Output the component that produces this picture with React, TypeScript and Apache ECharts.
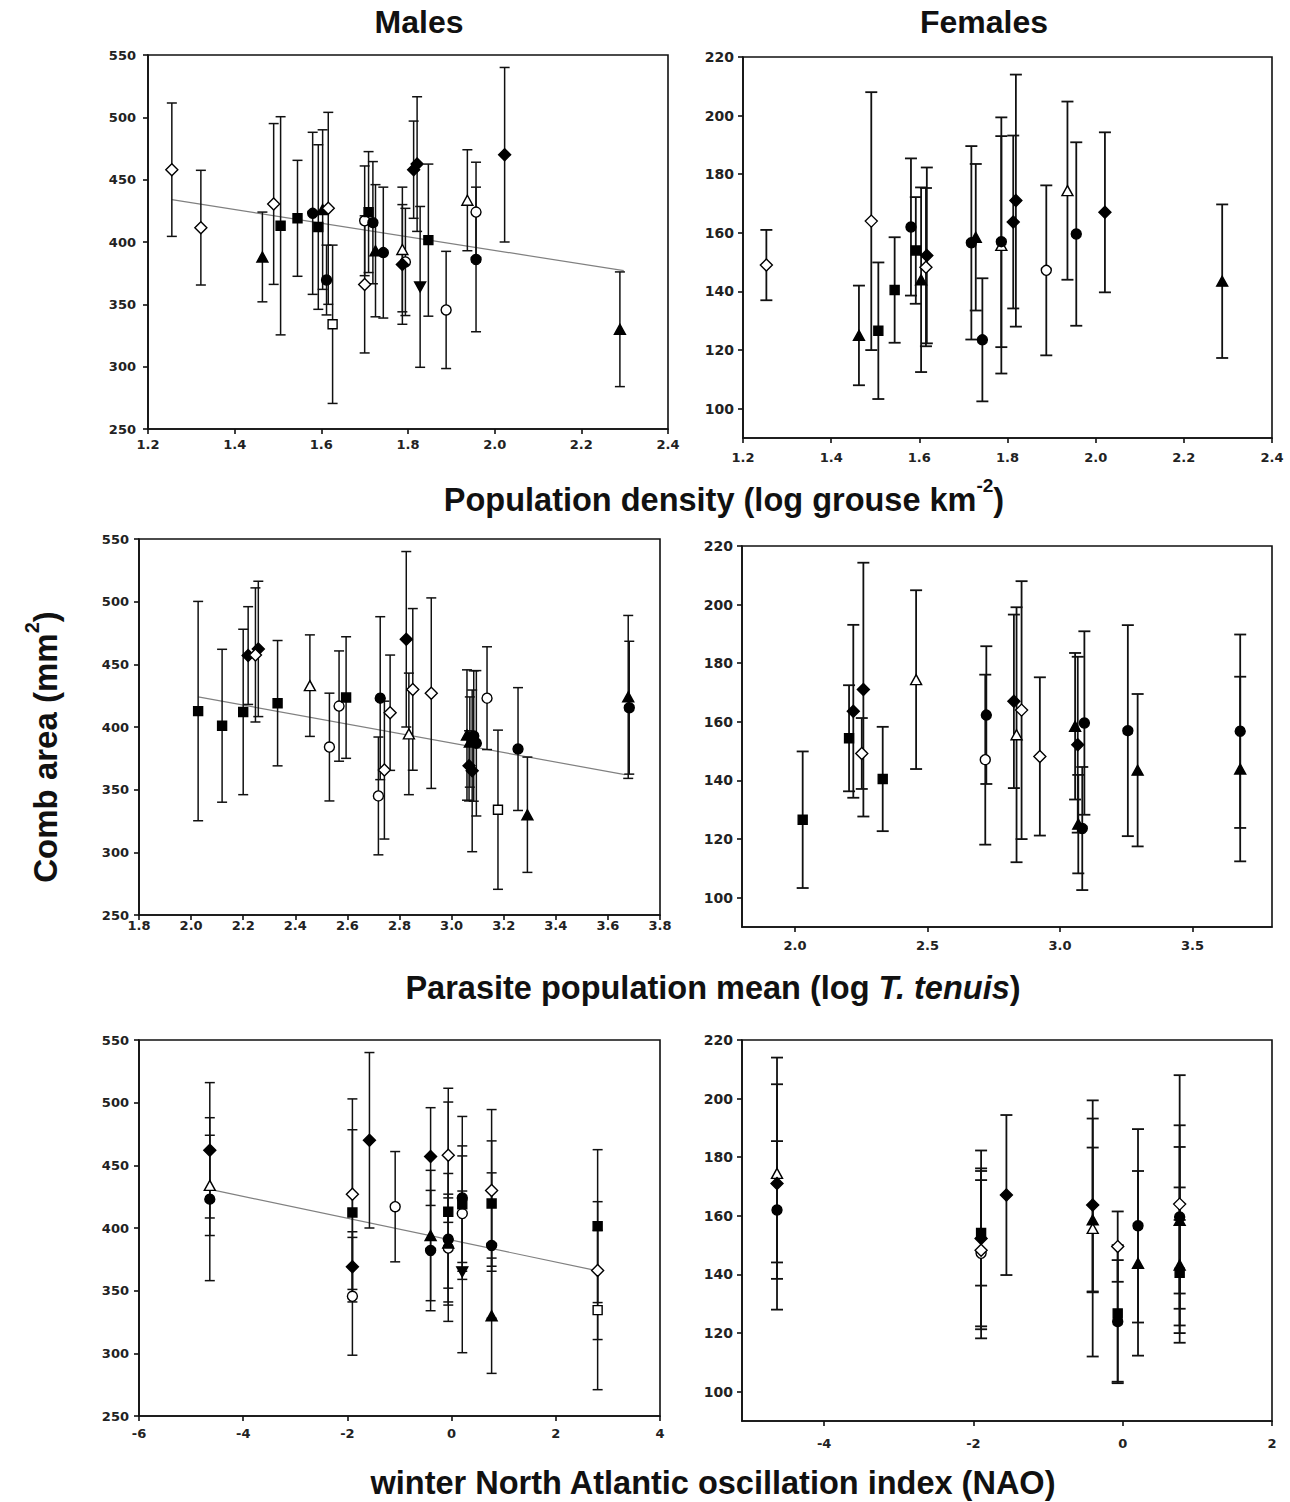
import React, { useEffect, useRef } from "react";
import * as echarts from "echarts";

// Each row: [x, mean comb area, error (half bar length), marker code]
type Row = [number, number, number, string];

// ---------- Males vs population density ----------
const densityMales: Row[] = [
  [1.255, 458, 53.5, "OD"],
  [1.322, 411.5, 46, "OD"],
  [1.464, 388, 36, "FT"],
  [1.49, 430.5, 64.5, "OD"],
  [1.506, 413, 87.5, "FS"],
  [1.545, 419, 46.5, "FS"],
  [1.58, 423, 65, "FC"],
  [1.593, 412, 66, "FS"],
  [1.603, 426, 64, "FT"],
  [1.616, 427, 77, "OD"],
  [1.612, 369.5, 28, "FC"],
  [1.626, 334, 63.5, "OS"],
  [1.7, 417, 44, "OC"],
  [1.7, 366, 55, "OD"],
  [1.709, 424, 48.5, "FS"],
  [1.719, 415.5, 49, "FC"],
  [1.725, 393, 53, "FT"],
  [1.743, 391.5, 52.5, "FC"],
  [1.787, 394, 50, "OT"],
  [1.787, 382, 48, "FD"],
  [1.794, 384, 43, "OC"],
  [1.813, 458, 39, "FD"],
  [1.821, 462.5, 54, "FD"],
  [1.828, 364, 64.5, "FTD"],
  [1.847, 401.5, 61, "FS"],
  [1.888, 345.5, 47, "OC"],
  [1.937, 433.5, 40.5, "OT"],
  [1.957, 424, 40, "OC"],
  [1.957, 386, 58, "FC"],
  [2.023, 470, 70, "FD"],
  [2.289, 330, 46, "FT"],
];
const densityMalesTrend = [
  [1.255, 434],
  [2.298, 377],
];

// ---------- Females vs population density ----------
const densityFemales: Row[] = [
  [1.253, 149, 12, "OD"],
  [1.463, 125, 17, "FT"],
  [1.491, 164, 44, "OD"],
  [1.507, 126.6, 23.3, "FS"],
  [1.544, 140.5, 18, "FS"],
  [1.581, 162, 23.4, "FC"],
  [1.592, 154, 18.2, "FS"],
  [1.604, 144, 31.5, "FT"],
  [1.617, 152.3, 30, "FD"],
  [1.615, 148.3, 27, "OD"],
  [1.718, 156.6, 33, "FC"],
  [1.728, 158.5, 25, "FT"],
  [1.743, 123.5, 21, "FC"],
  [1.786, 155.7, 43.7, "OT"],
  [1.786, 157, 36, "FC"],
  [1.813, 163.7, 29.5, "FD"],
  [1.819, 171, 43, "FD"],
  [1.888, 147.2, 29, "OC"],
  [1.936, 174.4, 30.4, "OT"],
  [1.956, 159.6, 31.3, "FC"],
  [2.021, 167, 27.3, "FD"],
  [2.287, 143.5, 26.2, "FT"],
];

// ---------- Males vs parasite mean ----------
const parasiteMales: Row[] = [
  [2.027, 412.7, 87.5, "FS"],
  [2.119, 401, 61, "FS"],
  [2.2, 412, 66, "FS"],
  [2.219, 457, 39, "FD"],
  [2.247, 457.5, 53.5, "OD"],
  [2.258, 462.3, 54, "FD"],
  [2.332, 419, 50, "FS"],
  [2.456, 433, 40.5, "OT"],
  [2.531, 384, 43, "OC"],
  [2.568, 416.7, 44, "OC"],
  [2.595, 423.5, 48.5, "FS"],
  [2.726, 423, 65, "FC"],
  [2.719, 345, 47, "OC"],
  [2.742, 365.6, 55, "OD"],
  [2.764, 411.4, 46, "OD"],
  [2.826, 470, 70, "FD"],
  [2.836, 394.5, 48.5, "OT"],
  [2.851, 430, 64.5, "OD"],
  [2.922, 427, 76, "OD"],
  [3.059, 393.6, 52, "FT"],
  [3.067, 369, 28, "FD"],
  [3.07, 388, 36, "FT"],
  [3.079, 365, 64.5, "FD"],
  [3.085, 392.8, 52, "FC"],
  [3.095, 387, 58, "FC"],
  [3.136, 423, 41, "OC"],
  [3.178, 334, 63.5, "OS"],
  [3.255, 382.4, 49, "FC"],
  [3.291, 330, 46, "FT"],
  [3.678, 424, 65, "FT"],
  [3.682, 415.4, 53, "FC"],
];
const parasiteMalesTrend = [
  [2.027, 424],
  [3.665, 362],
];

// ---------- Females vs parasite mean ----------
const parasiteFemales: Row[] = [
  [2.029, 126.6, 23.3, "FS"],
  [2.204, 154.4, 18.1, "FS"],
  [2.22, 163.6, 29.5, "FD"],
  [2.252, 149.2, 12.1, "OD"],
  [2.258, 171, 43.3, "FD"],
  [2.331, 140.5, 17.8, "FS"],
  [2.457, 174.4, 30.5, "OT"],
  [2.722, 162.3, 23.5, "FC"],
  [2.718, 147.1, 29, "OC"],
  [2.826, 167, 29.6, "FD"],
  [2.836, 155.6, 43.5, "OT"],
  [2.855, 164, 44, "OD"],
  [2.924, 148.2, 27, "OD"],
  [3.057, 158.5, 25, "FT"],
  [3.067, 152.2, 30, "FD"],
  [3.092, 159.6, 31.3, "FC"],
  [3.069, 125.1, 16.8, "FT"],
  [3.084, 123.6, 21, "FC"],
  [3.256, 157, 36, "FC"],
  [3.293, 143.5, 26, "FT"],
  [3.68, 156.8, 33, "FC"],
  [3.68, 143.9, 31.5, "FT"],
];

// ---------- Males vs NAO ----------
const naoMales: Row[] = [
  [-4.641, 462, 54, "FD"],
  [-4.641, 434, 40, "OT"],
  [-4.641, 423, 65, "FC"],
  [-1.904, 427, 76, "OD"],
  [-1.904, 412.4, 66, "FS"],
  [-1.904, 369, 28, "FD"],
  [-1.904, 345.5, 47, "OC"],
  [-1.577, 470, 70, "FD"],
  [-1.083, 417, 44, "OC"],
  [-0.403, 457, 39, "FD"],
  [-0.403, 394, 52, "FT"],
  [-0.403, 382, 48, "FC"],
  [-0.064, 458, 53.5, "OD"],
  [-0.064, 413, 87.5, "FS"],
  [-0.064, 391, 52.5, "FC"],
  [-0.064, 388, 36, "FT"],
  [-0.064, 384, 43, "OC"],
  [0.205, 424, 65, "FC"],
  [0.205, 419, 46.5, "FS"],
  [0.205, 411.5, 46, "OC"],
  [0.205, 365, 64.5, "FTD"],
  [0.768, 430, 64.5, "OD"],
  [0.768, 419.5, 50, "FS"],
  [0.768, 386, 58, "FC"],
  [0.768, 330, 46, "FT"],
  [2.803, 401.5, 61, "FS"],
  [2.803, 366, 55, "OD"],
  [2.803, 334.5, 63.5, "OS"],
];
const naoMalesTrend = [
  [-4.545, 430],
  [2.784, 366],
];

// ---------- Females vs NAO ----------
const naoFemales: Row[] = [
  [-4.631, 174.5, 30.4, "OT"],
  [-4.631, 171, 43, "FD"],
  [-4.631, 162, 23.5, "FC"],
  [-1.897, 154.2, 18, "FS"],
  [-1.897, 152.3, 30, "FD"],
  [-1.897, 147.2, 29, "OC"],
  [-1.897, 148.3, 27, "OD"],
  [-1.558, 167.1, 27.3, "FD"],
  [-0.402, 163.7, 29.5, "FD"],
  [-0.402, 158.6, 24.7, "FT"],
  [-0.402, 155.7, 43.7, "OT"],
  [-0.067, 149.5, 12, "OD"],
  [-0.067, 126.7, 23.3, "FS"],
  [-0.067, 123.9, 21, "FC"],
  [0.205, 156.6, 33, "FC"],
  [0.205, 143.8, 31.5, "FT"],
  [0.763, 164, 44, "OD"],
  [0.763, 159.6, 31.3, "FC"],
  [0.763, 158.5, 25, "FT"],
  [0.763, 143.2, 26.5, "FT"],
  [0.763, 140.6, 18, "FS"],
];

// ---------- Tick values ----------
const malesYTicks = [250, 300, 350, 400, 450, 500, 550];
const femalesYTicks = [100, 120, 140, 160, 180, 200, 220];
const densityXTicks = [1.2, 1.4, 1.6, 1.8, 2.0, 2.2, 2.4];
const parasiteMalesXTicks = [1.8, 2.0, 2.2, 2.4, 2.6, 2.8, 3.0, 3.2, 3.4, 3.6, 3.8];
const parasiteFemalesXTicks = [2.0, 2.5, 3.0, 3.5];
const naoMalesXTicks = [-6, -4, -2, 0, 2, 4];
const naoFemalesXTicks = [-4, -2, 0, 2];

// ---------- Styles ----------
const FONT_TITLE = '"Liberation Sans", Arial, Helvetica, sans-serif';
const FONT_TICK = '"DejaVu Sans", Verdana, sans-serif';
const INK = "#111111";

const MARKERS: Record<string, { symbol: string; size: number | number[]; fill: string; rotate?: number }> = {
  FD: { symbol: "diamond", size: [12, 12], fill: "#000" },
  OD: { symbol: "diamond", size: [12, 12], fill: "#fff" },
  FC: { symbol: "circle", size: 10, fill: "#000" },
  OC: { symbol: "circle", size: 10, fill: "#fff" },
  FS: { symbol: "rect", size: 9, fill: "#000" },
  OS: { symbol: "rect", size: 9, fill: "#fff" },
  FT: { symbol: "triangle", size: [11, 10], fill: "#000" },
  OT: { symbol: "triangle", size: [11, 10], fill: "#fff" },
  FTD: { symbol: "triangle", size: [11, 10], fill: "#000", rotate: 180 },
};
const MARKER_ORDER = ["OS", "OC", "OT", "FS", "FC", "FT", "FTD", "FD", "OD"];

type Panel = {
  rows: Row[];
  trend?: number[][];
  grid: { left: number; top: number; width: number; height: number };
  x: { min: number; max: number; ticks: number[]; dec: number; margin: number };
  y: { min: number; max: number; ticks: number[]; margin: number; size: number };
  cap: number;
  lw: number;
};

const panels: Panel[] = [
  {
    rows: densityMales,
    trend: densityMalesTrend,
    grid: { left: 148, top: 55, width: 520, height: 374 },
    x: { min: 1.2, max: 2.4, ticks: densityXTicks, dec: 1, margin: 9 },
    y: { min: 250, max: 550, ticks: malesYTicks, margin: 12, size: 13 },
    cap: 5,
    lw: 1.5,
  },
  {
    rows: densityFemales,
    grid: { left: 743, top: 57, width: 529, height: 381 },
    x: { min: 1.2, max: 2.4, ticks: densityXTicks, dec: 1, margin: 13 },
    y: { min: 90, max: 220, ticks: femalesYTicks, margin: 9, size: 14 },
    cap: 6,
    lw: 1.8,
  },
  {
    rows: parasiteMales,
    trend: parasiteMalesTrend,
    grid: { left: 139, top: 539, width: 521, height: 376 },
    x: { min: 1.8, max: 3.8, ticks: parasiteMalesXTicks, dec: 1, margin: 4 },
    y: { min: 250, max: 550, ticks: malesYTicks, margin: 10, size: 13 },
    cap: 5,
    lw: 1.5,
  },
  {
    rows: parasiteFemales,
    grid: { left: 742, top: 546, width: 530, height: 381 },
    x: { min: 1.8, max: 3.8, ticks: parasiteFemalesXTicks, dec: 1, margin: 12 },
    y: { min: 90, max: 220, ticks: femalesYTicks, margin: 9, size: 14 },
    cap: 6,
    lw: 1.8,
  },
  {
    rows: naoMales,
    trend: naoMalesTrend,
    grid: { left: 139, top: 1040, width: 521, height: 376 },
    x: { min: -6, max: 4, ticks: naoMalesXTicks, dec: 0, margin: 11 },
    y: { min: 250, max: 550, ticks: malesYTicks, margin: 10, size: 13 },
    cap: 5,
    lw: 1.5,
  },
  {
    rows: naoFemales,
    grid: { left: 742, top: 1040, width: 530, height: 381 },
    x: { min: -5.1, max: 2, ticks: naoFemalesXTicks, dec: 0, margin: 16 },
    y: { min: 90, max: 220, ticks: femalesYTicks, margin: 9, size: 14 },
    cap: 6,
    lw: 1.8,
  },
];

function buildOption() {
  const grid: any[] = [];
  const xAxis: any[] = [];
  const yAxis: any[] = [];
  const series: any[] = [];
  const lineStyle = { color: INK, width: 1.6 };

  panels.forEach((p, i) => {
    grid.push({
      ...p.grid,
      show: true,
      borderColor: INK,
      borderWidth: 1.6,
      backgroundColor: "transparent",
      containLabel: false,
      outerBoundsMode: "none",
    });
    xAxis.push({
      type: "value",
      gridIndex: i,
      min: p.x.min,
      max: p.x.max,
      axisLine: { show: true, onZero: false, lineStyle },
      axisTick: { show: true, customValues: p.x.ticks, length: 5, inside: false, lineStyle },
      axisLabel: {
        customValues: p.x.ticks,
        formatter: (v: number) => Number(v).toFixed(p.x.dec),
        margin: p.x.margin,
        fontFamily: FONT_TICK,
        fontWeight: "bold",
        fontSize: 13,
        color: "#222",
      },
      splitLine: { show: false },
    });
    yAxis.push({
      type: "value",
      gridIndex: i,
      min: p.y.min,
      max: p.y.max,
      axisLine: { show: true, onZero: false, lineStyle },
      axisTick: { show: true, customValues: p.y.ticks, length: 5, inside: false, lineStyle },
      axisLabel: {
        customValues: p.y.ticks,
        formatter: (v: number) => String(Math.round(v)),
        margin: p.y.margin,
        fontFamily: FONT_TICK,
        fontWeight: "bold",
        fontSize: p.y.size,
        color: "#222",
      },
      splitLine: { show: false },
    });

    if (p.trend) {
      series.push({
        type: "line",
        xAxisIndex: i,
        yAxisIndex: i,
        data: p.trend,
        symbol: "none",
        silent: true,
        z: 1,
        lineStyle: { color: "#808080", width: 1.2 },
      });
    }

    const cap = p.cap;
    const lw = p.lw;
    series.push({
      type: "custom",
      xAxisIndex: i,
      yAxisIndex: i,
      silent: true,
      z: 2,
      data: p.rows.map((r) => [r[0], r[1], r[2]]),
      encode: { x: 0, y: 1 },
      renderItem: (_params: any, api: any) => {
        const x = api.value(0);
        const y = api.value(1);
        const e = api.value(2);
        const top = api.coord([x, y + e]);
        const bot = api.coord([x, y - e]);
        const style = { stroke: INK, lineWidth: lw };
        return {
          type: "group",
          children: [
            { type: "line", shape: { x1: top[0], y1: top[1], x2: bot[0], y2: bot[1] }, style },
            { type: "line", shape: { x1: top[0] - cap, y1: top[1], x2: top[0] + cap, y2: top[1] }, style },
            { type: "line", shape: { x1: bot[0] - cap, y1: bot[1], x2: bot[0] + cap, y2: bot[1] }, style },
          ],
        };
      },
    });

    MARKER_ORDER.forEach((code) => {
      const pts = p.rows.filter((r) => r[3] === code).map((r) => [r[0], r[1]]);
      if (!pts.length) return;
      const m = MARKERS[code];
      series.push({
        type: "scatter",
        xAxisIndex: i,
        yAxisIndex: i,
        silent: true,
        z: 3,
        data: pts,
        symbol: m.symbol,
        symbolSize: m.size,
        symbolRotate: m.rotate || 0,
        itemStyle: { color: m.fill, borderColor: "#000", borderWidth: 1.4, opacity: 1 },
      });
    });
  });

  const titleStyle = (size: number) => ({
    fontFamily: FONT_TITLE,
    fontWeight: "bold",
    fontSize: size,
    fill: INK,
  });

  const graphic: any[] = [
    {
      type: "text",
      x: 419,
      y: 22,
      style: { text: "Males", ...titleStyle(32), align: "center", verticalAlign: "middle" },
    },
    {
      type: "text",
      x: 984,
      y: 22,
      style: { text: "Females", ...titleStyle(32), align: "center", verticalAlign: "middle" },
    },
    {
      type: "text",
      x: 724,
      y: 496,
      style: {
        text: "{n|Population density (log grouse km}{s|-2}{n|)}",
        align: "center",
        verticalAlign: "middle",
        fill: INK,
        rich: {
          n: { ...titleStyle(32.5), lineHeight: 40, verticalAlign: "bottom" },
          s: { ...titleStyle(19), lineHeight: 19, verticalAlign: "top" },
        },
      },
    },
    {
      type: "text",
      x: 713,
      y: 988,
      style: {
        text: "{n|Parasite population mean (log }{i|T. tenuis}{n|)}",
        align: "center",
        verticalAlign: "middle",
        fill: INK,
        rich: {
          n: { ...titleStyle(32.5), lineHeight: 38 },
          i: { ...titleStyle(32.5), fontStyle: "italic", lineHeight: 38 },
        },
      },
    },
    {
      type: "text",
      x: 713,
      y: 1483,
      style: {
        text: "winter North Atlantic oscillation index (NAO)",
        ...titleStyle(32.5),
        align: "center",
        verticalAlign: "middle",
      },
    },
    {
      type: "text",
      x: 42,
      y: 747,
      rotation: Math.PI / 2,
      style: {
        text: "{n|Comb area (mm}{s|2}{n|)}",
        align: "center",
        verticalAlign: "middle",
        fill: INK,
        rich: {
          n: { ...titleStyle(33), lineHeight: 40, verticalAlign: "bottom" },
          s: { ...titleStyle(20), verticalAlign: "top" },
        },
      },
    },
  ];

  return {
    animation: false,
    backgroundColor: "#ffffff",
    grid,
    xAxis,
    yAxis,
    series,
    graphic,
  };
}

export default function App() {
  const ref = useRef<HTMLDivElement>(null);
  useEffect(() => {
    if (!ref.current) return;
    const chart = echarts.init(ref.current, null, { renderer: "svg" });
    chart.setOption(buildOption() as any);
    return () => {
      chart.dispose();
    };
  }, []);
  return (
    <div
      ref={ref}
      style={{ position: "absolute", left: 0, top: 0, width: 1290, height: 1502, background: "#fff" }}
    />
  );
}
